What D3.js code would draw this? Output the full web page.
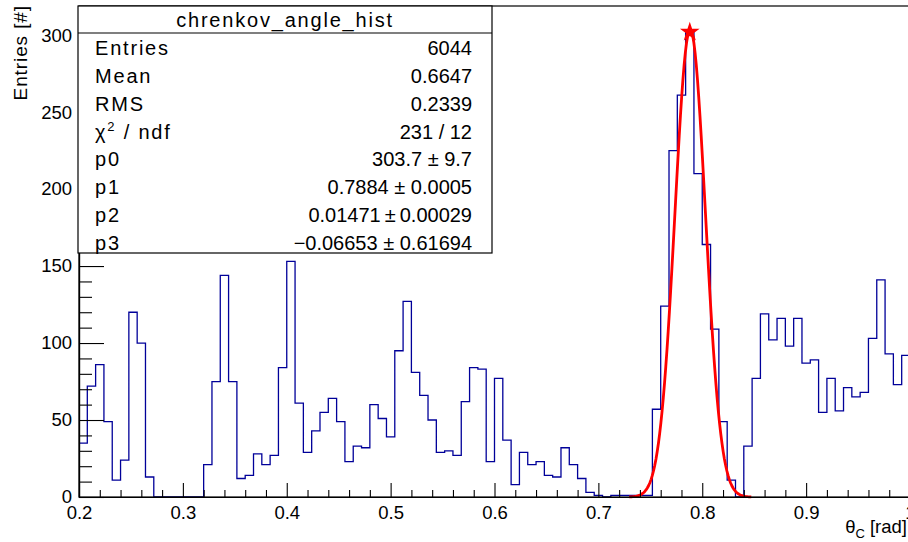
<!DOCTYPE html>
<html>
<head>
<meta charset="utf-8">
<script src="https://cdn.jsdelivr.net/npm/d3@7"></script>
<style>
  html, body { margin: 0; padding: 0; background: #fff; }
  svg { display: block; }
  text { font-family: "Liberation Sans", Arial, Helvetica, sans-serif; fill: #000; }
</style>
</head>
<body>
<svg id="chart" width="908" height="542"></svg>
<script>
// Histogram binning
const xMin = 0.2, xMax = 1.0, nBins = 100;

// Bin contents, one per bin from 0.2 to 1.0
const counts = [
  35, 72, 86, 49, 11, 24, 120, 100, 13, 0,
  0, 0, 0, 0, 0, 21, 75, 144, 75, 12,
  14, 28, 21, 27, 84, 153, 61, 29, 43, 55,
  64, 49, 23, 33, 32, 60, 51, 39, 95, 127,
  81, 66, 50, 29, 30, 27, 62, 84, 83, 23,
  77, 37, 8, 29, 21, 23, 14, 13, 32, 21,
  12, 3, 1, 0, 1, 1, 1, 1, 1, 57,
  124, 225, 261, 302, 210, 164, 109, 49, 11, 0,
  33, 77, 119, 102, 116, 98, 116, 87, 89, 55,
  77, 56, 71, 65, 68, 103, 141, 93, 73, 92
];

// Fit: gaus(p0,p1,p2) + p3 over the fit range
const fitParams = [303.7, 0.7884, 0.01471, -0.06653];
const fitRange = [0.7296, 0.8472];
const fitPoints = 100;

// Axis ticks
const xMajorTicks = [0.2, 0.3, 0.4, 0.5, 0.6, 0.7, 0.8, 0.9, 1.0];
const xTickLabels = ["0.2", "0.3", "0.4", "0.5", "0.6", "0.7", "0.8", "0.9", "1"];
const yMajorTicks = [0, 50, 100, 150, 200, 250, 300];
const yTickLabels = ["0", "50", "100", "150", "200", "250", "300"];
const yMax = 318.9;

// Statistics box rows
const statsTitle = "chrenkov_angle_hist";
const statsLabels = ["Entries", "Mean", "RMS", "CHI2", "p0", "p1", "p2", "p3"];
const statsValues = ["6044", "0.6647", "0.2339", "231 / 12", "303.7 \u00b1 9.7",
  "0.7884 \u00b1 0.0005", "0.01471\u2009\u00b1\u20090.00029", "\u22120.06653 \u00b1 0.61694"];

const svg = d3.select("#chart");
const frame = { left: 79, right: 910, top: 6, bottom: 497 };

const x = d3.scaleLinear().domain([xMin, xMax]).range([frame.left, frame.right]);
const y = d3.scaleLinear().domain([0, yMax]).range([frame.bottom, frame.top]);

const binW = (xMax - xMin) / nBins;

// Histogram outline as a step path
const stepPts = [];
counts.forEach((c, i) => {
  const lo = xMin + i * binW, hi = lo + binW;
  stepPts.push([x(lo), y(c)], [x(hi), y(c)]);
});
svg.append("path")
  .attr("d", d3.line()(stepPts))
  .attr("fill", "none")
  .attr("stroke", "#000099")
  .attr("stroke-width", 1.3);

// Fitted function
const fitFn = v => fitParams[0] * Math.exp(-0.5 * Math.pow((v - fitParams[1]) / fitParams[2], 2)) + fitParams[3];
const fitX = d3.range(fitPoints + 1).map(i => fitRange[0] + (fitRange[1] - fitRange[0]) * i / fitPoints);
svg.append("path")
  .attr("d", d3.line().x(d => x(d)).y(d => y(Math.max(0, fitFn(d))))(fitX))
  .attr("fill", "none")
  .attr("stroke", "#ff0000")
  .attr("stroke-width", 2.8)
  .attr("stroke-linejoin", "round");

// Marker on the highest bin
const peakIdx = d3.maxIndex(counts);
svg.append("path")
  .attr("d", d3.symbol().type(d3.symbolStar).size(120)())
  .attr("transform", `translate(${x(xMin + (peakIdx + 0.5) * binW)},${y(counts[peakIdx])})`)
  .attr("fill", "#ff0000");

// Frame
svg.append("rect")
  .attr("x", frame.left).attr("y", frame.top)
  .attr("width", frame.right - frame.left).attr("height", frame.bottom - frame.top)
  .attr("fill", "none").attr("stroke", "#000").attr("stroke-width", 1.2);

const labelFont = 18.5;

// X axis: major ticks with labels, minor ticks without
svg.append("g").attr("transform", `translate(0,${frame.bottom})`)
  .call(d3.axisBottom(x).tickValues(xMajorTicks)
    .tickFormat((d, i) => xTickLabels[i]).tickSizeInner(-14).tickSizeOuter(0).tickPadding(9));
const xMinor = d3.range(0, 41).map(i => xMin + i * 0.02).filter(v => !xMajorTicks.some(t => Math.abs(t - v) < 1e-9));
svg.append("g").attr("transform", `translate(0,${frame.bottom})`)
  .call(d3.axisBottom(x).tickValues(xMinor).tickFormat("").tickSizeInner(-7).tickSizeOuter(0));

// Y axis
svg.append("g").attr("transform", `translate(${frame.left},0)`)
  .call(d3.axisLeft(y).tickValues(yMajorTicks)
    .tickFormat((d, i) => yTickLabels[i]).tickSizeInner(-25).tickSizeOuter(0).tickPadding(7));
const yMinor = d3.range(0, 32).map(i => i * 10).filter(v => v % 50 !== 0);
svg.append("g").attr("transform", `translate(${frame.left},0)`)
  .call(d3.axisLeft(y).tickValues(yMinor).tickFormat("").tickSizeInner(-13).tickSizeOuter(0));

svg.selectAll(".domain").attr("stroke", "#000").attr("stroke-width", 1.2);
svg.selectAll(".tick line").attr("stroke", "#000").attr("stroke-width", 1.1);
svg.selectAll(".tick text").attr("font-size", labelFont)
  .attr("font-family", "'Liberation Sans', Arial, sans-serif").attr("fill", "#000");

// Axis titles
svg.append("text")
  .attr("transform", "translate(27,5) rotate(-90)")
  .attr("text-anchor", "end")
  .attr("font-size", 19)
  .attr("letter-spacing", 0.9)
  .text("Entries [#]");

const xt = svg.append("text")
  .attr("x", 907).attr("y", 533)
  .attr("text-anchor", "end")
  .attr("font-size", 18.5);
xt.append("tspan").text("\u03b8");
xt.append("tspan").attr("font-size", 13).attr("dy", 5).text("C");
xt.append("tspan").attr("dy", -5).text(" [rad]");

// Statistics box
const box = { left: 78, right: 492, top: 6, bottom: 253, titleLine: 33 };
const statsFont = 20;
const wordSpacing = 1.8;
const statsG = svg.append("g");
statsG.append("rect")
  .attr("x", box.left).attr("y", box.top)
  .attr("width", box.right - box.left).attr("height", box.bottom - box.top)
  .attr("fill", "#fff").attr("stroke", "#000").attr("stroke-width", 1.2);
statsG.append("line")
  .attr("x1", box.left).attr("x2", box.right)
  .attr("y1", box.titleLine).attr("y2", box.titleLine)
  .attr("stroke", "#000").attr("stroke-width", 1.2);
statsG.append("text")
  .attr("x", (box.left + box.right) / 2).attr("y", 27)
  .attr("text-anchor", "middle").attr("font-size", statsFont)
  .attr("letter-spacing", wordSpacing)
  .text(statsTitle);

const rowY = d3.scaleLinear().domain([0, 7]).range([55, 250]);
statsLabels.forEach((lab, i) => {
  const t = statsG.append("text").attr("x", 95).attr("y", rowY(i))
    .attr("font-size", statsFont).attr("letter-spacing", wordSpacing);
  if (lab === "CHI2") {
    t.append("tspan").text("\u03c7");
    t.append("tspan").attr("font-size", 13).attr("dy", -8).text("2");
    t.append("tspan").attr("dy", 8).text(" / ndf");
  } else {
    t.text(lab);
  }
  statsG.append("text").attr("x", 472).attr("y", rowY(i))
    .attr("text-anchor", "end").attr("font-size", statsFont).text(statsValues[i]);
});
</script>
</body>
</html>
